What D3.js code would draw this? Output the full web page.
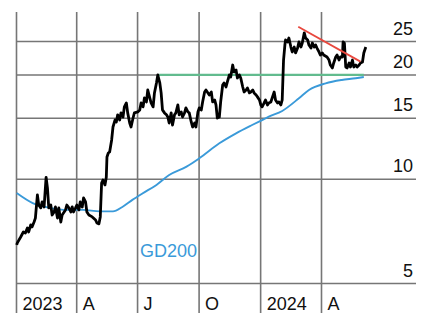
<!DOCTYPE html>
<html>
<head>
<meta charset="utf-8">
<script src="https://cdn.jsdelivr.net/npm/d3@7"></script>
<style>
  html, body { margin: 0; padding: 0; background: #fff; }
  svg { display: block; }
  text { font-family: "Liberation Sans", Arial, sans-serif; }
</style>
</head>
<body>
<script>
// price (log scale), 200-day average, trend lines
var priceDates = [
  '2023-01-02','2023-01-03','2023-01-08','2023-01-12','2023-01-15','2023-01-18','2023-01-20','2023-01-23','2023-01-25','2023-01-28','2023-01-30',
  '2023-02-02','2023-02-04','2023-02-07','2023-02-09','2023-02-12','2023-02-15','2023-02-17','2023-02-19','2023-02-22','2023-02-24','2023-02-27',
  '2023-03-01','2023-03-04','2023-03-06','2023-03-09','2023-03-11','2023-03-14','2023-03-16','2023-03-18','2023-03-21','2023-03-24','2023-03-26','2023-03-28','2023-03-31',
  '2023-04-02','2023-04-05','2023-04-07','2023-04-10','2023-04-12','2023-04-15','2023-04-17','2023-04-20','2023-04-25','2023-04-30',
  '2023-05-02','2023-05-05','2023-05-07','2023-05-09','2023-05-11','2023-05-14','2023-05-16','2023-05-17','2023-05-19','2023-05-21','2023-05-24','2023-05-26','2023-05-29','2023-05-31',
  '2023-06-02','2023-06-05','2023-06-07','2023-06-10','2023-06-12','2023-06-15','2023-06-17','2023-06-20','2023-06-22','2023-06-25','2023-06-27',
  '2023-07-02','2023-07-05','2023-07-07','2023-07-10','2023-07-12','2023-07-15','2023-07-17','2023-07-20','2023-07-22','2023-07-25','2023-07-27','2023-07-30',
  '2023-08-01','2023-08-04','2023-08-06','2023-08-08','2023-08-11','2023-08-14','2023-08-16','2023-08-18','2023-08-21','2023-08-23','2023-08-26','2023-08-28','2023-08-31',
  '2023-09-02','2023-09-05','2023-09-07','2023-09-10','2023-09-12','2023-09-15','2023-09-17','2023-09-20','2023-09-22','2023-09-25','2023-09-27','2023-09-30',
  '2023-10-02','2023-10-05','2023-10-07','2023-10-10','2023-10-12','2023-10-15','2023-10-17','2023-10-20','2023-10-22','2023-10-25','2023-10-27','2023-10-29',
  '2023-11-01','2023-11-03','2023-11-06','2023-11-08','2023-11-11','2023-11-13','2023-11-16','2023-11-18','2023-11-21','2023-11-23','2023-11-26','2023-11-28',
  '2023-12-01','2023-12-03','2023-12-06','2023-12-08','2023-12-11','2023-12-13','2023-12-16','2023-12-18','2023-12-21','2023-12-23','2023-12-26','2023-12-28','2023-12-31',
  '2024-01-02','2024-01-04','2024-01-07','2024-01-09','2024-01-12','2024-01-14','2024-01-17','2024-01-19','2024-01-22','2024-01-24','2024-01-27','2024-01-29',
  '2024-02-01','2024-02-03','2024-02-05','2024-02-07','2024-02-08','2024-02-11','2024-02-13','2024-02-16','2024-02-18','2024-02-21','2024-02-23','2024-02-26','2024-02-28',
  '2024-03-02','2024-03-04','2024-03-07','2024-03-09','2024-03-12','2024-03-14','2024-03-17','2024-03-19','2024-03-22','2024-03-24','2024-03-26','2024-03-29','2024-03-31',
  '2024-04-03','2024-04-05','2024-04-10','2024-04-13','2024-04-15','2024-04-18','2024-04-20','2024-04-23','2024-04-25','2024-04-28','2024-04-30',
  '2024-05-03','2024-05-04','2024-05-06','2024-05-08','2024-05-10','2024-05-13','2024-05-15','2024-05-18','2024-05-20','2024-05-23','2024-05-25','2024-05-28','2024-05-30',
  '2024-06-02','2024-06-04','2024-06-07'
];
var priceValues = [
  6.44,6.53,6.79,7.02,6.97,7.21,7.02,7.36,7.26,7.5,7.7,
  8.98,8.4,8.24,8.57,8.29,10.1,9.41,8.24,8.4,7.86,8.02,
  8.29,7.7,8.24,7.5,7.86,8.02,8.13,8.4,8.24,8.02,8.29,8.02,8.24,
  8.4,8.13,8.57,8.29,8.8,8.57,8.02,7.86,7.76,7.6,
  7.45,7.41,7.76,9.72,9.92,9.6,10.1,11.56,11.87,11.95,12.95,14.11,14.78,14.59,
  15.3,14.78,15.5,15.08,16.13,16.56,15.5,14.49,14.11,14.98,15.5,
  15.6,15.81,16.56,16.13,17.12,16.67,18.05,17.12,16.56,16.13,17.7,18.92,
  19.94,18.92,17.7,15.81,15.5,15.3,15.08,14.49,15.5,14.3,15.3,15.5,16.34,
  15.3,15.6,15.08,15.5,16.02,15.6,15.5,14.59,14.11,14.49,14.11,15.6,
  16.02,15.81,16.67,17.81,18.05,17.7,17.46,17.81,16.67,16.89,16.34,14.98,
  15.08,16.67,18.66,18.92,18.41,19.04,19.94,19.68,21.31,20.35,20.62,19.55,
  19.94,19.55,18.41,17.81,18.05,18.29,17.7,17.81,18.05,17.7,17.46,17.24,16.89,
  16.34,16.13,16.56,16.89,16.34,16.56,16.67,17.12,17.81,16.89,16.56,16.67,
  16.34,16.89,22.03,24.34,25.17,24.84,25.5,24.02,23.24,24.02,23.09,23.86,24.84,
  24.02,24.67,26.4,25.5,25.17,24.34,23.86,24.67,24.02,24.34,23.86,23.24,22.78,
  23.09,22.78,22.48,22.03,21.31,20.9,21.6,22.48,22.78,22.03,22.48,
  22.48,24.84,24.67,21.03,20.9,21.6,21.03,22.03,21.03,21.31,21.03,21.31,21.6,
  21.74,23.09,24.02
];

var gdDates = [
  '2023-01-02','2023-01-26','2023-02-21','2023-03-18','2023-04-11','2023-05-06','2023-05-26','2023-06-09','2023-06-24',
  '2023-07-09','2023-07-30','2023-08-18','2023-09-13','2023-10-02','2023-11-01','2023-11-26','2023-12-20',
  '2024-01-04','2024-01-14','2024-02-03','2024-02-28','2024-03-14','2024-04-08','2024-05-02','2024-05-23','2024-06-04'
];
var gdValues = [
  9.1,8.51,8.24,8.13,8.13,8.05,8.05,8.29,8.69,
  9.07,9.6,10.25,10.84,11.46,12.66,13.53,14.3,
  14.78,15.11,15.7,17.08,18.05,18.87,19.29,19.51,19.68
];

var supportDates = ['2023-08-03', '2024-06-04'];
var supportValues = [19.95, 19.95];
var trendDates = ['2024-02-27', '2024-05-30'];
var trendValues = [27.5, 21.8];

var yTicks = [5, 10, 15, 20, 25];
var xTickDates = ['2023-01-01', '2023-04-01', '2023-07-01', '2023-10-01', '2024-01-01', '2024-04-01'];
var xTickLabels = ['2023', 'A', 'J', 'O', '2024', 'A'];

var W = 421, H = 313;
var GRID = '#767676';

var parse = d3.timeParse('%Y-%m-%d');

var x = d3.scaleTime()
  .domain([parse('2023-01-01'), parse('2024-04-01')])
  .range([16, 321]);

var y = d3.scaleLog()
  .domain([5, 25])
  .range([283, 41]);

var svg = d3.select('body').append('svg')
  .attr('width', W)
  .attr('height', H);

// horizontal grid + price labels
var yAxis = svg.append('g')
  .attr('transform', 'translate(416,0)')
  .call(d3.axisRight(y).tickValues(yTicks).tickSize(-400).tickFormat(d3.format('d')));
yAxis.select('.domain').remove();
yAxis.selectAll('line').attr('stroke', GRID).attr('stroke-width', 1.6);
yAxis.selectAll('text')
  .attr('x', -3)
  .attr('dy', null)
  .attr('y', -7)
  .attr('text-anchor', 'end')
  .attr('fill', '#111')
  .style('font-size', '18px')
  .style('font-family', '"Liberation Sans", Arial, sans-serif');

// vertical month lines + labels
var xAxis = svg.append('g')
  .attr('transform', 'translate(0,' + H + ')')
  .call(d3.axisTop(x).tickValues(xTickDates.map(parse)).tickSize(H - 12)
    .tickFormat(function(d, i) { return xTickLabels[i]; }));
xAxis.select('.domain').remove();
xAxis.selectAll('line').attr('stroke', GRID).attr('stroke-width', 1.6);
xAxis.selectAll('text')
  .attr('x', 6)
  .attr('y', -3)
  .attr('dy', null)
  .attr('text-anchor', 'start')
  .attr('fill', '#111')
  .style('font-size', '18px')
  .style('font-family', '"Liberation Sans", Arial, sans-serif');

function series(dates, values) {
  return dates.map(function(d, i) { return { date: parse(d), value: values[i] }; });
}

var line = d3.line()
  .x(function(d) { return x(d.date); })
  .y(function(d) { return y(d.value); });

svg.append('path')
  .datum(series(gdDates, gdValues))
  .attr('fill', 'none')
  .attr('stroke', '#3a9ad9')
  .attr('stroke-width', 1.9)
  .attr('d', line.curve(d3.curveMonotoneX));

svg.append('path')
  .datum(series(supportDates, supportValues))
  .attr('fill', 'none')
  .attr('stroke', '#62bb8e')
  .attr('stroke-width', 2.2)
  .attr('d', line.curve(d3.curveLinear));

svg.append('path')
  .datum(series(priceDates, priceValues))
  .attr('fill', 'none')
  .attr('stroke', '#000')
  .attr('stroke-width', 2.8)
  .attr('stroke-linejoin', 'round')
  .attr('d', line);

svg.append('path')
  .datum(series(trendDates, trendValues))
  .attr('fill', 'none')
  .attr('stroke', '#e8473d')
  .attr('stroke-width', 1.8)
  .attr('d', line);

svg.append('text')
  .attr('x', 140)
  .attr('y', 257)
  .attr('fill', '#3a9ad9')
  .style('font-size', '18px')
  .text('GD200');
</script>
</body>
</html>
